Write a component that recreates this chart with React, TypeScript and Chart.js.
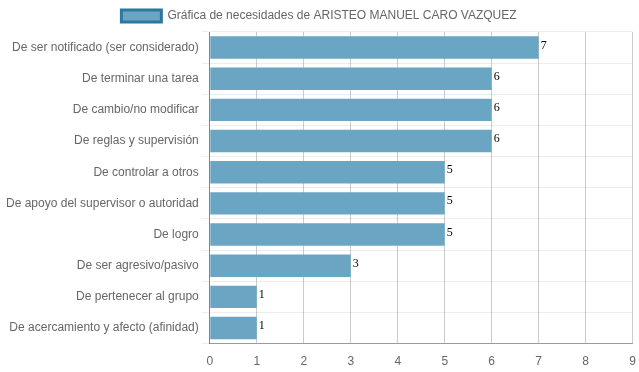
import React, { useEffect, useRef } from "react";
import { Chart, registerables } from "chart.js";

Chart.register(...registerables);

const categories = [
  "De ser notificado (ser considerado)",
  "De terminar una tarea",
  "De cambio/no modificar",
  "De reglas y supervisión",
  "De controlar a otros",
  "De apoyo del supervisor o autoridad",
  "De logro",
  "De ser agresivo/pasivo",
  "De pertenecer al grupo",
  "De acercamiento y afecto (afinidad)",
];
const values = [7, 6, 6, 6, 5, 5, 5, 3, 1, 1];
const seriesLabel = "Gráfica de necesidades de ARISTEO MANUEL CARO VAZQUEZ";
const xMin = 0;
const xMax = 9;

const valueLabels = {
  id: "valueLabels",
  afterDatasetsDraw(chart: any) {
    const ctx = chart.ctx;
    const meta = chart.getDatasetMeta(0);
    ctx.save();
    ctx.font = "12px 'Liberation Serif'";
    ctx.fillStyle = "#000";
    ctx.textAlign = "left";
    ctx.textBaseline = "alphabetic";
    meta.data.forEach((bar: any, i: number) => {
      ctx.fillText(String(values[i]), bar.x + 2, bar.y + 1);
    });
    ctx.restore();
  },
};

export default function App() {
  const ref = useRef<HTMLCanvasElement>(null);
  useEffect(() => {
    if (!ref.current) return;
    const chart = new Chart(ref.current, {
      type: "bar",
      data: {
        labels: categories,
        datasets: [
          {
            label: seriesLabel,
            data: values,
            backgroundColor: "rgb(106,166,196)",
            borderColor: "rgb(46,120,160)",
            borderWidth: 0,
          },
        ],
      },
      options: {
        indexAxis: "y",
        animation: false,
        responsive: true,
        maintainAspectRatio: false,
        layout: { padding: { right: 4, left: 3, top: 0, bottom: 0 } },
        plugins: {
          tooltip: { enabled: false },
          legend: {
            labels: {
              color: "#666",
              font: { family: "'Liberation Sans', Arial", size: 12 },
              boxWidth: 40,
              boxHeight: 12,
              generateLabels: () => [
                {
                  text: seriesLabel,
                  fillStyle: "rgb(106,166,196)",
                  strokeStyle: "rgb(46,120,160)",
                  lineWidth: 3,
                  hidden: false,
                  datasetIndex: 0,
                  fontColor: "#666",
                },
              ],
            },
          },
        },
        scales: {
          x: {
            min: xMin,
            max: xMax,
            ticks: {
              stepSize: 1,
              color: "#666",
              font: { family: "'Liberation Sans', Arial", size: 12 },
            },
            grid: {
              color: "rgba(0,0,0,0.2)",
              tickColor: "rgba(0,0,0,0)",
              drawTicks: true,
              tickLength: 8,
            },
            border: { color: "rgba(0,0,0,0.35)" },
          },
          y: {
            ticks: {
              color: "#666",
              font: { family: "'Liberation Sans', Arial", size: 12 },
            },
            grid: {
              color: "rgba(0,0,0,0.07)",
              drawTicks: true,
              tickLength: 8,
            },
            border: { color: "rgba(0,0,0,0.35)" },
          },
        },
      },
      plugins: [valueLabels],
    });
    return () => chart.destroy();
  }, []);
  return (
    <div style={{ position: "absolute", left: 0, top: 0, width: 639, height: 372 }}>
      <canvas ref={ref} />
    </div>
  );
}
